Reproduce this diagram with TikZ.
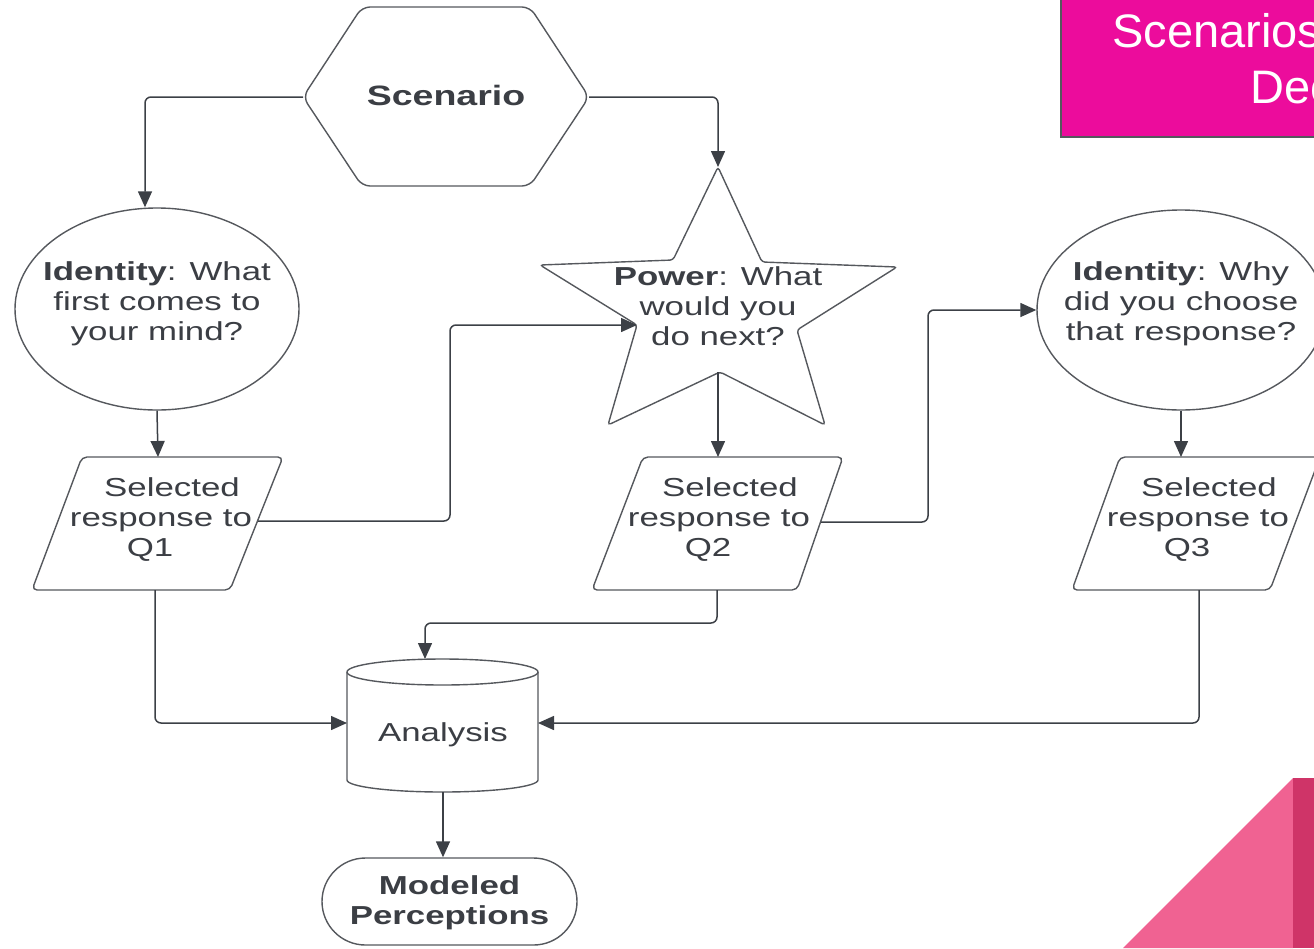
\documentclass[tikz,border=0pt]{standalone}
\usepackage{fontspec}
\setmainfont{Liberation Sans}[FakeStretch=1.34]
\newfontfamily\titlefont{Liberation Sans}
\usetikzlibrary{shapes.geometric,shapes.misc,arrows.meta}
\definecolor{txt}{HTML}{3B3E44}
\definecolor{edge}{HTML}{55585D}
\definecolor{conn}{HTML}{3C4046}
\definecolor{pinkbox}{HTML}{EC0C9C}
\definecolor{pinktri}{HTML}{F06292}
\definecolor{pinkdark}{HTML}{CF3468}
\tikzset{
  shapeline/.style={draw=edge, line width=1.4pt, fill=white},
  lbl/.style={text=txt, align=center, inner sep=0pt, font=\fontsize{26}{30}\selectfont},
  conn/.style={draw=conn, line width=1.5pt, rounded corners=6pt, -{Triangle[length=16pt,width=14pt]}},
}
\begin{document}
\begin{tikzpicture}[x=1pt,y=-1pt]
\useasboundingbox (0,0) rectangle (1314,948);
\clip (0,0) rectangle (1314,948);

% pink decorations
\fill[pinkbox] (1061,-5) rectangle (1320,137);
\draw[line width=2pt, edge] (1061,-5) -- (1061,137) -- (1320,137);
\node[anchor=base west, text=white, inner sep=0pt, font=\titlefont\fontsize{47}{56}\selectfont] (title1) at (1112,47) {Scenarios};
\node[anchor=base west, text=white, inner sep=0pt, font=\titlefont\fontsize{47}{56}\selectfont] (title2) at (1250,103) {Dec};
\fill[pinktri] (1123,948) -- (1293,778) -- (1293,948) -- cycle;
\fill[pinkdark] (1293,778) rectangle (1320,948);

% hexagon
\draw[shapeline, rounded corners=8pt] (303,97) -- (362,7) -- (530,7) -- (589,97) -- (530,186) -- (362,186) -- cycle;
\node[lbl, font=\bfseries\fontsize{28}{30}\selectfont] (scen) at (446,95) {Scenario};
\coordinate (hexL) at (303,97);
\coordinate (hexR) at (589,97);

% circle 1
\node[ellipse, shapeline, minimum width=284pt, minimum height=202pt, inner sep=0pt] (c1) at (157,309) {};
\node[lbl] (c1t) at (157,304) {\textbf{Identity}: What\\first comes to\\your mind?};

% star
\draw[shapeline, rounded corners=3pt] (718,167) -- (762,262) -- (897,267) -- (797,330) -- (825,425) -- (720,372) -- (608,425) -- (637,325) -- (540,265) -- (673,260) -- cycle;
\node[lbl] (st) at (718,306) {\textbf{Power}: What\\would you\\do next?};
\coordinate (stTop) at (718,167);
\coordinate (stLeft) at (637,325);
\coordinate (stBot) at (718,372);

% circle 3
\node[ellipse, shapeline, minimum width=288pt, minimum height=200pt, inner sep=0pt] (c3) at (1181,310) {};
\node[lbl] (c3t) at (1181,304) {\textbf{Identity}: Why\\did you choose\\that response?};

% parallelograms
\draw[shapeline, rounded corners=5pt] (82,457) -- (283,457) -- (230,590) -- (32,590) -- cycle;
\node[lbl] (p1) at (161,520) {\hspace*{22pt}Selected\\response to\\Q1\hspace*{22pt}};
\draw[shapeline, rounded corners=5pt] (643,457) -- (843,457) -- (797,590) -- (592,590) -- cycle;
\node[lbl] (p2) at (719,520) {\hspace*{22pt}Selected\\response to\\Q2\hspace*{22pt}};
\draw[shapeline, rounded corners=5pt] (1120,457) -- (1320,457) -- (1270,590) -- (1072,590) -- cycle;
\node[lbl] (p3) at (1198,520) {\hspace*{22pt}Selected\\response to\\Q3\hspace*{22pt}};
\coordinate (p1top) at (158,457);
\coordinate (p1R) at (258,521);
\coordinate (p1bot) at (155,590);
\coordinate (p2top) at (718,457);
\coordinate (p2R) at (821,522);
\coordinate (p2bot) at (717,590);
\coordinate (p3top) at (1181,457);
\coordinate (p3bot) at (1199,590);

% cylinder
\draw[shapeline] (347,672) -- (347,780) arc[start angle=180, end angle=360, x radius=95.5pt, y radius=12pt] -- (538,672);
\draw[shapeline] (442.5,672) ellipse [x radius=95.5pt, y radius=13pt];
\node[lbl] (an) at (443,735) {Analysis};
\coordinate (anTop) at (425,659);
\coordinate (anL) at (347,723);
\coordinate (anR) at (538,723);
\coordinate (anBot) at (443,792);

% terminal
\node[rounded rectangle, shapeline, minimum width=255pt, minimum height=87pt, inner sep=0pt] (mp) at (449.5,901.5) {};
\node[lbl, font=\bfseries\fontsize{26}{30}\selectfont] (mpt) at (449.5,903) {Modeled\\Perceptions};

% connectors
\draw[conn] (hexL) -| (c1.north -| 145,0);
\draw[conn] (hexR) -| (stTop);
\draw[conn] (c1.south) -- (p1top);
\draw[conn] (p1R) -- (450,521) -- (450,325) -- (stLeft);
\draw[conn] (stBot) -- (p2top);
\draw[conn] (p2R) -- (928,522) -- (928,310) -- (c3.west);
\draw[conn] (p2bot) -- (717,623) -- (425,623) -- (anTop);
\draw[conn] (c3.south) -- (p3top);
\draw[conn] (p1bot) -- (155,723) -- (anL);
\draw[conn] (p3bot) -- (1199,723) -- (anR);
\draw[conn] (anBot) -- (anBot |- mp.north);
\end{tikzpicture}
\end{document}
